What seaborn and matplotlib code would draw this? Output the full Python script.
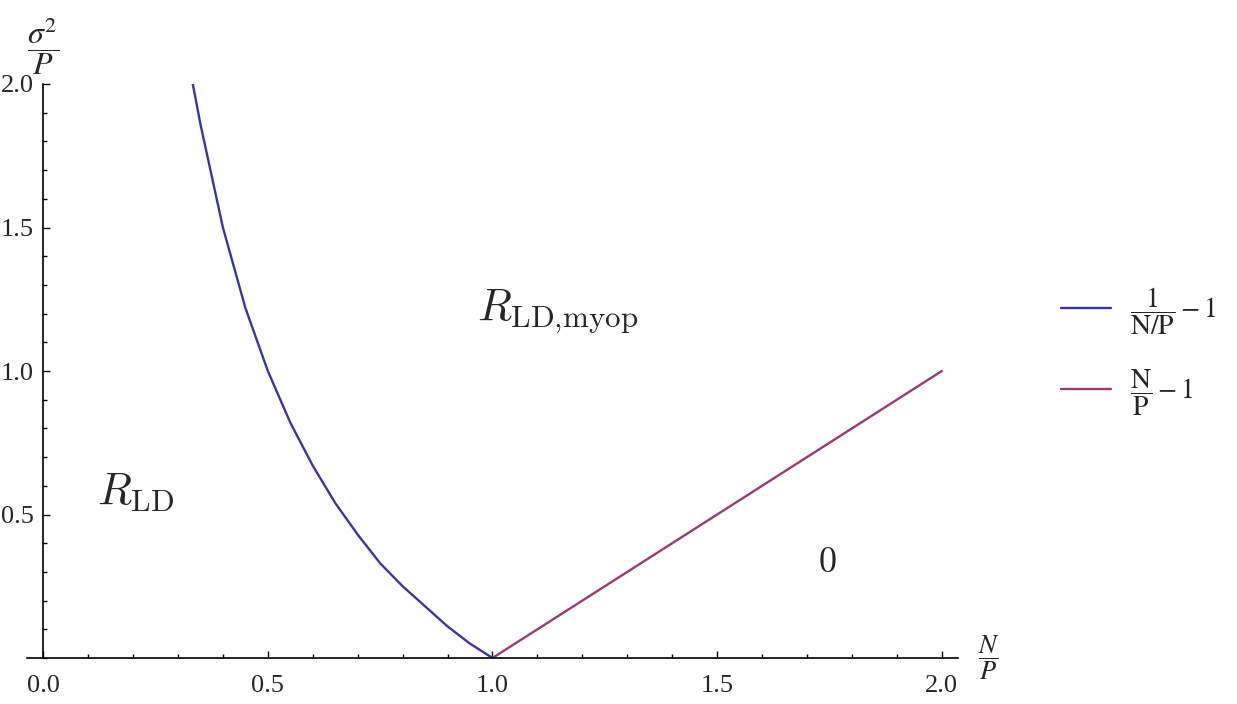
import matplotlib
matplotlib.use('Agg')
import matplotlib.pyplot as plt
import seaborn as sns
from matplotlib.ticker import MultipleLocator, FormatStrFormatter

# curve values
blue_x = [0.333, 0.35, 0.40, 0.45, 0.50, 0.55, 0.60, 0.65, 0.70, 0.75, 0.80, 0.85, 0.90, 0.95, 1.00]
blue_y = [2.00, 1.86, 1.50, 1.22, 1.00, 0.82, 0.67, 0.54, 0.43, 0.33, 0.25, 0.18, 0.11, 0.05, 0.00]
purple_x = [1.00, 1.25, 1.50, 1.75, 2.00]
purple_y = [0.00, 0.25, 0.50, 0.75, 1.00]

labels = [r'$\dfrac{1}{\mathrm{N/P}}-1$', r'$\dfrac{\mathrm{N}}{\mathrm{P}}-1$']
colors = ['#38389c', '#993d71']

sns.set_style('white')
plt.rcParams['font.family'] = ['Liberation Serif', 'DejaVu Serif']
plt.rcParams['mathtext.fontset'] = 'stix'

fig = plt.figure(figsize=(12.37, 7.04), dpi=100)
ax = fig.add_axes([27 / 1237, 46 / 704, (958 - 27) / 1237, (658 - 84) / 704])

sns.lineplot(x=blue_x, y=blue_y, ax=ax, color=colors[0], lw=1.7, label=labels[0], sort=False)
sns.lineplot(x=purple_x, y=purple_y, ax=ax, color=colors[1], lw=1.7, label=labels[1], sort=False)

ax.set_xlim(-0.036, 2.036)
ax.set_ylim(0, 2.0)
for s in ['top', 'right']:
    ax.spines[s].set_visible(False)
ax.spines['left'].set_position(('data', 0))
for s in ['left', 'bottom']:
    ax.spines[s].set_color('black')
    ax.spines[s].set_linewidth(1.2)

ax.xaxis.set_major_locator(MultipleLocator(0.5))
ax.xaxis.set_minor_locator(MultipleLocator(0.1))
ax.xaxis.set_major_formatter(FormatStrFormatter('%.1f'))
ax.set_yticks([0.5, 1.0, 1.5, 2.0])
ax.yaxis.set_minor_locator(MultipleLocator(0.1))
ax.yaxis.set_major_formatter(FormatStrFormatter('%.1f'))
ax.tick_params(which='both', direction='in', color='black', width=1.0, labelsize=19,
               bottom=True, left=True, top=False, right=False)
ax.tick_params(which='major', length=5)
ax.tick_params(which='minor', length=3)
ax.tick_params(axis='x', pad=12)
ax.tick_params(axis='y', pad=7)

ax.text(0.0, 2.025, r'$\dfrac{\sigma^2}{P}$', fontsize=23, ha='center', va='bottom')
ax.text(2.105, 0.0, r'$\dfrac{N}{P}$', fontsize=19, ha='center', va='center')

ax.text(0.12, 0.575, r'$R_{\mathrm{LD}}$', fontsize=32, ha='left', va='center', math_fontfamily='cm')
ax.text(0.966, 1.21, r'$R_{\mathrm{LD{,}myop}}$', fontsize=32, ha='left', va='center', math_fontfamily='cm')
ax.text(1.745, 0.33, r'$0$', fontsize=26, ha='center', va='center', math_fontfamily='cm')

ax.get_legend().remove()
h, l = ax.get_legend_handles_labels()
fig.legend(h, l, loc='center left', bbox_to_anchor=(1036 / 1237, 1 - 352 / 704),
           frameon=False, fontsize=20, handlelength=1.8, labelspacing=1.1, handletextpad=0.7)

fig.savefig('out.png', dpi=100)
